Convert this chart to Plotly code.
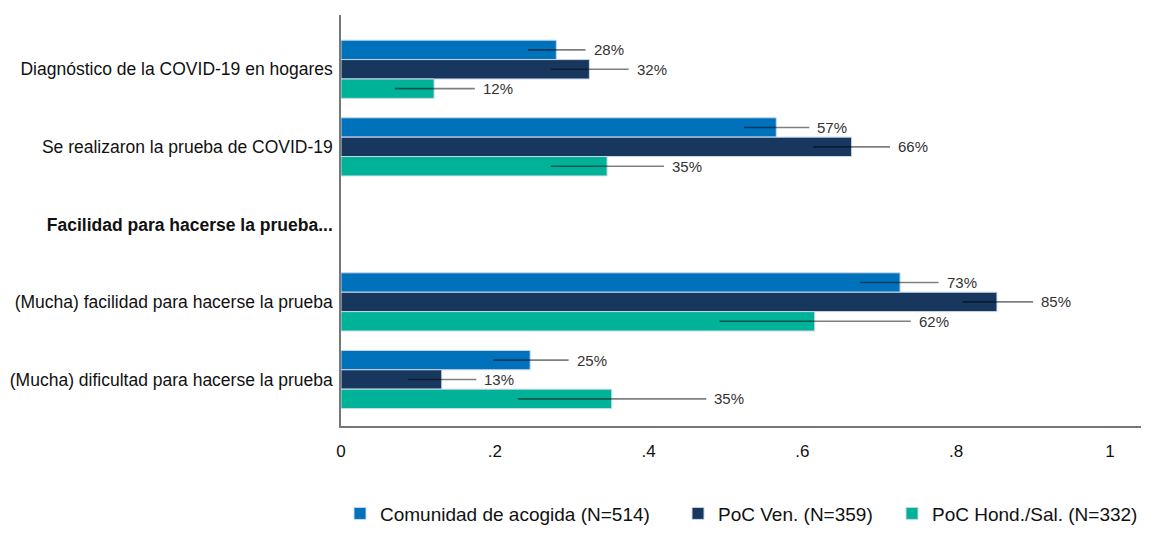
import plotly.graph_objects as go

categories = [
    "Diagnóstico de la COVID-19 en hogares",
    "Se realizaron la prueba de COVID-19",
    "<b>Facilidad para hacerse la prueba...</b>",
    "(Mucha) facilidad para hacerse la prueba",
    "(Mucha) dificultad para hacerse la prueba",
]
# positions of rows that hold data (row 2 is a header without bars)
data_rows = [0, 1, 3, 4]

series_names = [
    "Comunidad de acogida (N=514)",
    "PoC Ven. (N=359)",
    "PoC Hond./Sal. (N=332)",
]
colors = ["#0072BC", "#18375F", "#00B398"]

comunidad = [0.280, 0.566, 0.727, 0.246]
comunidad_lo = [0.243, 0.524, 0.675, 0.198]
comunidad_hi = [0.318, 0.609, 0.777, 0.296]

ven = [0.323, 0.664, 0.853, 0.131]
ven_lo = [0.273, 0.614, 0.808, 0.087]
ven_hi = [0.374, 0.714, 0.900, 0.176]

hond = [0.121, 0.346, 0.616, 0.352]
hond_lo = [0.070, 0.273, 0.492, 0.230]
hond_hi = [0.174, 0.420, 0.741, 0.475]

values = [comunidad, ven, hond]
lows = [comunidad_lo, ven_lo, hond_lo]
highs = [comunidad_hi, ven_hi, hond_hi]

x_ticks = [0, 0.2, 0.4, 0.6, 0.8, 1]
x_tick_labels = ["0", ".2", ".4", ".6", ".8", "1"]

FONT = "Liberation Sans, Arial, sans-serif"

# page body has an 8px margin; size the figure to fit inside the window
W, H = 1133, 519
legend_x_px = [332, 670, 884]
legend_keys = ["legend", "legend2", "legend3"]

fig = go.Figure()
bargap = 0.25
n = len(series_names)
bar_w = (1 - bargap) / n
annotations = []
for i, name in enumerate(series_names):
    v, lo, hi = values[i], lows[i], highs[i]
    fig.add_trace(go.Bar(
        name=name,
        orientation="h",
        y=data_rows,
        x=v,
        legend=legend_keys[i],
        marker=dict(color=colors[i], line=dict(color="#C9D8E8", width=1)),
        error_x=dict(
            type="data", symmetric=False,
            array=[h - a for h, a in zip(hi, v)],
            arrayminus=[a - l for a, l in zip(v, lo)],
            color="rgba(0,0,0,0.5)", thickness=1.6, width=0,
        ),
        hoverinfo="skip",
    ))
    offset = (i - (n - 1) / 2) * bar_w
    for r, a, h in zip(data_rows, v, hi):
        annotations.append(dict(
            x=h, y=r + offset, xref="x", yref="y",
            text=f"{round(a * 100):d}%", showarrow=False,
            xanchor="left", yanchor="middle", xshift=6,
            font=dict(family=FONT, size=15, color="#333333"),
        ))

legend_common = dict(
    orientation="h", xref="container", xanchor="left",
    y=-0.213, yref="paper", yanchor="middle",
    font=dict(family=FONT, size=19, color="#111111"),
    itemwidth=30, bgcolor="rgba(0,0,0,0)",
)
legend_layout = {}
for key, px in zip(legend_keys, legend_x_px):
    legend_layout[key] = dict(legend_common, x=px / W)

fig.update_layout(
    width=W, height=H,
    barmode="group", bargap=bargap, bargroupgap=0,
    plot_bgcolor="white", paper_bgcolor="white",
    margin=dict(l=333, r=0, t=7, b=101, autoexpand=False),
    font=dict(family=FONT, size=17, color="#111111"),
    annotations=annotations,
    showlegend=True,
    **legend_layout,
)
fig.update_xaxes(
    range=[0, 800 / 769], tickvals=x_ticks, ticktext=x_tick_labels,
    showgrid=False, zeroline=False, showline=True, linecolor="#777777", linewidth=1.5,
    ticks="outside", ticklen=9, tickcolor="rgba(0,0,0,0)",
    tickfont=dict(family=FONT, size=17, color="#111111"),
)
fig.update_yaxes(
    range=[4.6, -0.7], tickvals=list(range(len(categories))), ticktext=categories,
    showgrid=False, zeroline=False, showline=True, linecolor="#777777", linewidth=1.5,
    ticks="outside", ticklen=3, tickcolor="rgba(0,0,0,0)",
    tickfont=dict(family=FONT, size=17.5, color="#111111"),
)

fig.write_html("out.html")
